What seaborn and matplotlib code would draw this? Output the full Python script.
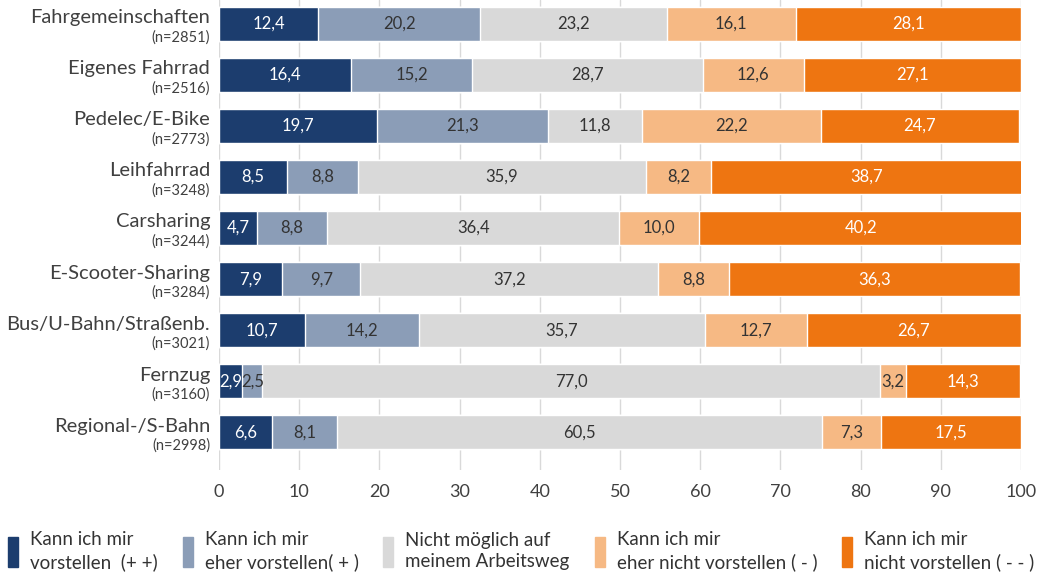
import numpy as np
import pandas as pd
import matplotlib
matplotlib.use("Agg")
import matplotlib.pyplot as plt
from matplotlib.patches import Rectangle
import seaborn as sns

categories = ["Fahrgemeinschaften", "Eigenes Fahrrad", "Pedelec/E-Bike", "Leihfahrrad",
              "Carsharing", "E-Scooter-Sharing", "Bus/U-Bahn/Straßenb.", "Fernzug",
              "Regional-/S-Bahn"]
n_labels = ["(n=2851)", "(n=2516)", "(n=2773)", "(n=3248)", "(n=3244)", "(n=3284)",
            "(n=3021)", "(n=3160)", "(n=2998)"]
s_pp = [12.4, 16.4, 19.7, 8.5, 4.7, 7.9, 10.7, 2.9, 6.6]
s_p = [20.2, 15.2, 21.3, 8.8, 8.8, 9.7, 14.2, 2.5, 8.1]
s_na = [23.2, 28.7, 11.8, 35.9, 36.4, 37.2, 35.7, 77.0, 60.5]
s_m = [16.1, 12.6, 22.2, 8.2, 10.0, 8.8, 12.7, 3.2, 7.3]
s_mm = [28.1, 27.1, 24.7, 38.7, 40.2, 36.3, 26.7, 14.3, 17.5]
series = [s_pp, s_p, s_na, s_m, s_mm]
legend_labels = ["Kann ich mir\nvorstellen  (+ +)", "Kann ich mir\neher vorstellen( + )",
                 "Nicht möglich auf\nmeinem Arbeitsweg", "Kann ich mir\neher nicht vorstellen ( - )",
                 "Kann ich mir\nnicht vorstellen ( - - )"]
x_ticks = [0, 10, 20, 30, 40, 50, 60, 70, 80, 90, 100]

colors = ["#1C3D6E", "#8B9DB7", "#D9D9D9", "#F6B984", "#EE7511"]
text_colors = ["white", "#333333", "#333333", "#333333", "white"]

sns.set_theme(style="white")
plt.rcParams['font.family'] = ['Lato', 'DejaVu Sans']

fig = plt.figure(figsize=(10.43, 5.73), dpi=100)
ax = fig.add_axes([219/1043, 1 - 470/573, (1021-219)/1043, 470/573])

arr = np.array(series)
cum = np.cumsum(arr, axis=0)
for i in range(len(series) - 1, -1, -1):
    df = pd.DataFrame({"cat": categories, "val": cum[i]})
    sns.barplot(data=df, x="val", y="cat", orient="h", color=colors[i],
                width=0.66, saturation=1, ax=ax, zorder=2)

for i in range(len(series)):
    for j in range(len(categories)):
        start = cum[i][j] - arr[i][j]
        center = start + arr[i][j] / 2
        ax.text(center, j, f"{arr[i][j]:.1f}".replace(".", ","), ha="center", va="center",
                fontsize=12, color=text_colors[i], zorder=5)

ax.set_xlim(0, 100)
ax.set_ylim(8.74, -0.47)
ax.set_xticks(x_ticks)
ax.set_xticklabels([str(t) for t in x_ticks], fontsize=13, color="#404040")
ax.set_yticks(range(len(categories)))
ax.set_yticklabels([])
ax.set_xlabel("")
ax.set_ylabel("")
ax.tick_params(axis="y", length=0)
ax.tick_params(axis="x", length=0, pad=10)
ax.grid(axis="x", color="#D9D9D9", linewidth=1, zorder=0)
ax.set_axisbelow(True)
for s in ax.spines.values():
    s.set_visible(False)

trans = matplotlib.transforms.blended_transform_factory(ax.transAxes, ax.transData)
for j, (c, n) in enumerate(zip(categories, n_labels)):
    ax.text(-0.011, j - 0.12, c, transform=trans, ha="right", va="center",
            fontsize=14.5, color="#404040")
    ax.text(-0.011, j + 0.26, n, transform=trans, ha="right", va="center",
            fontsize=10.5, color="#404040")

leg_x = [8, 183, 383, 595, 842]
for k in range(5):
    fig.patches.append(Rectangle((leg_x[k] / 1043, 1 - 567/573), 10/1043, 30/573,
                                 transform=fig.transFigure, color=colors[k], figure=fig))
    fig.text((leg_x[k] + 22) / 1043, 1 - 551/573, legend_labels[k], ha="left", va="center",
             fontsize=13.5, color="#333333", linespacing=1.3)

fig.savefig("out.png", dpi=100)
